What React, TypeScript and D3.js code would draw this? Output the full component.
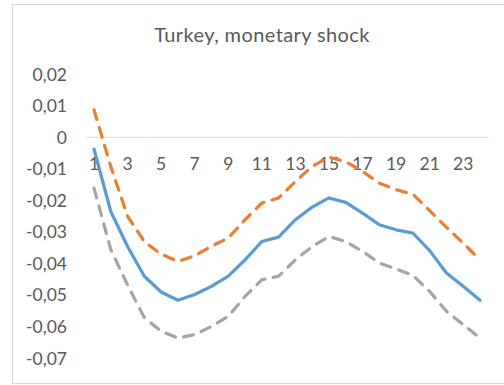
import React from "react";
import * as d3 from "d3";

// Impulse responses over 24 periods: point estimate and confidence bands
const periods = d3.range(1, 25);
const response = [
  -0.0037, -0.0235, -0.0346, -0.044, -0.049, -0.0516, -0.0498, -0.0472,
  -0.044, -0.0388, -0.033, -0.0316, -0.0261, -0.0221, -0.0192, -0.0206,
  -0.024, -0.0277, -0.0293, -0.0303, -0.0359, -0.043, -0.0472, -0.0516,
];
const upperBand = [
  0.0087, -0.0092, -0.025, -0.033, -0.037, -0.0393, -0.0375, -0.0345,
  -0.0319, -0.0261, -0.0208, -0.0192, -0.014, -0.0092, -0.0063, -0.0077,
  -0.0108, -0.0145, -0.0166, -0.018, -0.0232, -0.0285, -0.0335, -0.0388,
];
const lowerBand = [
  -0.0161, -0.0355, -0.0468, -0.0571, -0.0614, -0.0636, -0.0625, -0.0599,
  -0.0567, -0.0504, -0.0451, -0.044, -0.0388, -0.0346, -0.0314, -0.033,
  -0.0361, -0.0398, -0.0417, -0.0437, -0.0488, -0.0551, -0.0593, -0.0636,
];
const yTicks = [0.02, 0.01, 0, -0.01, -0.02, -0.03, -0.04, -0.05, -0.06, -0.07];
const xTickLabels = periods.filter((p) => p % 2 === 1);
const title = "Turkey, monetary shock";

const W = 504;
const H = 385;
const FONT = "Lato, 'Open Sans', sans-serif";
const TEXT = "#595959";

export default function App() {
  const x = d3
    .scaleBand<number>()
    .domain(periods)
    .range([85.6, 488.4]);
  const y = d3.scaleLinear().domain([-0.07, 0.02]).range([358.3, 74.2]);
  const cx = (p: number) => (x(p) ?? 0) + x.bandwidth() / 2;

  const line = d3
    .line<number>()
    .x((_, i) => cx(periods[i]))
    .y((v) => y(v));

  const fmt = (v: number) =>
    v === 0 ? "0" : d3.format(".2f")(v).replace("−", "-").replace(".", ",");

  const series = [
    { values: lowerBand, color: "#A5A5A5", dash: "10 8.5" },
    { values: upperBand, color: "#ED7D31", dash: "10 8.5" },
    { values: response, color: "#5B9BD5", dash: null as string | null },
  ];

  return (
    <svg
      width={W}
      height={H}
      style={{ position: "absolute", left: 0, top: 0, background: "#fff" }}
      fontFamily={FONT}
    >
      <rect x={12.5} y={4.5} width={500} height={379} fill="#fff" stroke="#D9D9D9" />
      <text
        x={262}
        y={42}
        textAnchor="middle"
        fontSize={20}
        letterSpacing={0.4}
        fill={TEXT}
      >
        {title}
      </text>

      {yTicks.map((t) => (
        <text
          key={t}
          x={67}
          y={y(t)}
          dy="0.36em"
          textAnchor="end"
          fontSize={17.5}
          fill={TEXT}
        >
          {fmt(t)}
        </text>
      ))}

      <line
        x1={x.range()[0]}
        x2={x.range()[1]}
        y1={y(0)}
        y2={y(0)}
        stroke="#D9D9D9"
        strokeWidth={1}
      />

      {xTickLabels.map((p) => (
        <text
          key={p}
          x={cx(p)}
          y={164}
          dy="0.36em"
          textAnchor="middle"
          fontSize={17.5}
          fill={TEXT}
        >
          {p}
        </text>
      ))}

      {series.map((s, i) => (
        <path
          key={i}
          d={line(s.values) ?? ""}
          fill="none"
          stroke={s.color}
          strokeWidth={3.2}
          strokeLinecap="round"
          strokeLinejoin="round"
          strokeDasharray={s.dash ?? undefined}
        />
      ))}
    </svg>
  );
}
